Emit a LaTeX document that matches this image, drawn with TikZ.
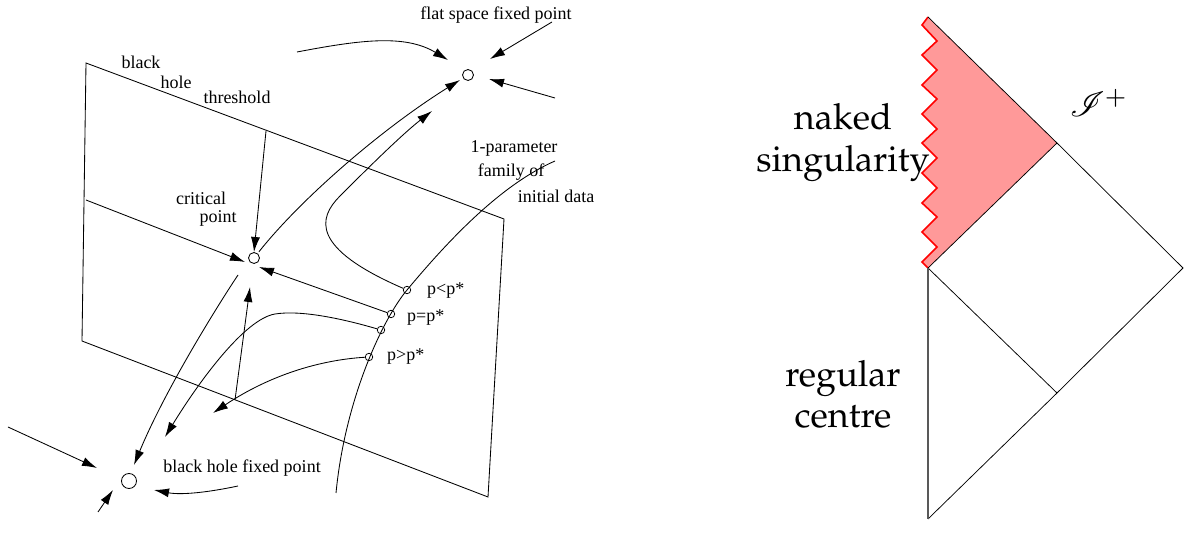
\documentclass[tikz,border=0pt]{standalone}
\usepackage[T1]{fontenc}
\usepackage{fontspec}
\usepackage{mathrsfs}
\usetikzlibrary{arrows.meta}
\newfontfamily\tms{Liberation Serif}
\newcommand\bigfont{\fontencoding{T1}\fontfamily{ppl}\selectfont}
\begin{document}
\begin{tikzpicture}[x=1pt,y=-1pt,
  every node/.style={inner sep=0pt},
  ln/.style={line width=0.85pt},
  arr/.style={ln,-{Latex[length=15pt,width=9pt]}},
  fp/.style={circle,draw,line width=0.85pt,minimum size=11pt,inner sep=0pt},
  dp/.style={circle,draw,line width=0.75pt,minimum size=7.5pt,inner sep=0pt},
  lbl/.style={font=\tms\fontsize{18}{20}\selectfont},
  big/.style={font=\bigfont\fontsize{36}{44}\selectfont}]
\useasboundingbox (0,0) rectangle (1184,534);

% ---------- left diagram ----------
\coordinate (tl) at (86,63);
\coordinate (tr) at (504,219);
\coordinate (br) at (488,497);
\coordinate (bl) at (82,341);
\draw[ln] (tl) -- (tr) -- (br) -- (bl) -- cycle;

\node[fp] (flat) at (468,75) {};
\node[fp] (crit) at (254,258) {};
\node[fp,minimum size=15pt] (bh) at (129,481) {};

% family of initial data
\coordinate (ftop) at (555,161);
\coordinate (fbot) at (336,493);
\draw[ln] (ftop) .. controls (500,185) and (447,242) .. (407,290) .. controls (382,320) and (345,400) .. (fbot);
\node[dp] (plt) at (407,290) {};
\node[dp] (peq) at (391,314) {};
\node[dp] (pm) at (381,330) {};
\node[dp] (pgt) at (369,357) {};

% free ends
\coordinate (ml) at (86,200);
\coordinate (th) at (266,131);
\coordinate (vb) at (235,400);
\coordinate (critW) at (245,262);
\coordinate (critN) at (254,252);
\coordinate (critE) at (259,267);
\coordinate (critS) at (250,287);
\coordinate (critSW) at (238,275);
\coordinate (flatSW) at (460,80);
\coordinate (flatS) at (432,111);
\coordinate (flatNW) at (448,60);
\coordinate (flatNE) at (490,59);
\coordinate (flatE) at (489,79);
\coordinate (fl0) at (297,52);
\coordinate (fur0) at (552,22);
\coordinate (fr0) at (555,98);
\coordinate (bhN) at (134,465);
\coordinate (bhW) at (97,468);
\coordinate (bhS) at (113,490);
\coordinate (bhE) at (154,490);
\coordinate (bhL0) at (8,427);
\coordinate (bhB0) at (98,512);
\coordinate (bhR0) at (238,486);
\coordinate (tipeq) at (165,437);
\coordinate (tipgt) at (213,413);

\draw[arr] (ml) -- (critW);
\draw[arr] (th) -- (critN);
\draw[arr,shorten <=2pt] (crit) .. controls (300,200) and (380,130) .. (flatSW);
\draw[arr] (plt) .. controls (310,248) and (318,218) .. (340,196) .. controls (360,176) and (400,136) .. (flatS);
\draw[arr] (peq) -- (critE);
\draw[arr] (pm) .. controls (340,318) and (300,310) .. (275,314) .. controls (245,319) and (200,380) .. (tipeq);
\draw[arr] (pgt) .. controls (320,360) and (270,375) .. (tipgt);
\draw[arr] (vb) -- (critS);
\draw[arr] (critSW) .. controls (218,305) and (165,390) .. (bhN);

\draw[arr] (bhL0) -- (bhW);
\draw[arr] (bhB0) -- (bhS);
\draw[arr] (bhR0) .. controls (205,493) and (180,495) .. (bhE);

\draw[arr] (fl0) .. controls (360,40) and (405,34) .. (flatNW);
\draw[arr] (fur0) -- (flatNE);
\draw[arr] (fr0) -- (flatE);

\node[lbl] (tflat) at (496,15) {flat space fixed point};
\node[lbl] (tblack) at (141,62) {black};
\node[lbl] (thole) at (176,82) {hole};
\node[lbl] (tthr) at (237,97) {threshold};
\node[lbl] (tcrit) at (201,198) {critical};
\node[lbl] (tpoint) at (218,218) {point};
\node[lbl] (tpar) at (514,148) {1-parameter};
\node[lbl] (tfam) at (511,172) {family of};
\node[lbl] (tini) at (556,196) {initial data};
\node[lbl,anchor=west] (tlt) at (427,291) {p<p*};
\node[lbl,anchor=west] (teq) at (407,318) {p=p*};
\node[lbl,anchor=west] (tgt) at (387,357) {p>p*};
\node[lbl] (tbh) at (242,468) {black hole fixed point};

% ---------- right diagram ----------
\coordinate (st) at (928,17);
\coordinate (sb) at (928,268);
\coordinate (scri) at (1057,143);
\coordinate (ri) at (1183,268);
\coordinate (mc) at (1057,393);
\coordinate (bot) at (928,519);
\fill[red!40] (st) -- (922,25) -- (937,41) -- (922,55) -- (937,70) -- (922,85) -- (937,99) -- (922,114) -- (937,129) -- (922,143) -- (937,158) -- (922,173) -- (937,188) -- (922,203) -- (937,217) -- (922,232) -- (937,247) -- (922,262) -- (sb) -- (scri) -- cycle;
\draw[red,line width=1.6pt] (st) -- (922,25) -- (937,41) -- (922,55) -- (937,70) -- (922,85) -- (937,99) -- (922,114) -- (937,129) -- (922,143) -- (937,158) -- (922,173) -- (937,188) -- (922,203) -- (937,217) -- (922,232) -- (937,247) -- (922,262) -- (sb);
\draw[line width=0.75pt] (st) -- (scri) -- (ri) -- (mc) -- (bot);
\draw[line width=0.75pt] (sb) -- (scri);
\draw[line width=0.75pt] (sb) -- (mc);
\draw[line width=1.1pt,black!65] (sb) -- (bot);

\node[big,anchor=base] (tnak) at (843,130) {naked};
\node[big,anchor=base] (tsing) at (843,172) {singularity};
\node[big,anchor=base] (treg) at (843,387) {regular};
\node[big,anchor=base] (tcen) at (843,428) {centre};
\node[scale=3.5] (tscri) at (1099,103) {$\mathscr{I}^{+}$};
\end{tikzpicture}
\end{document}
